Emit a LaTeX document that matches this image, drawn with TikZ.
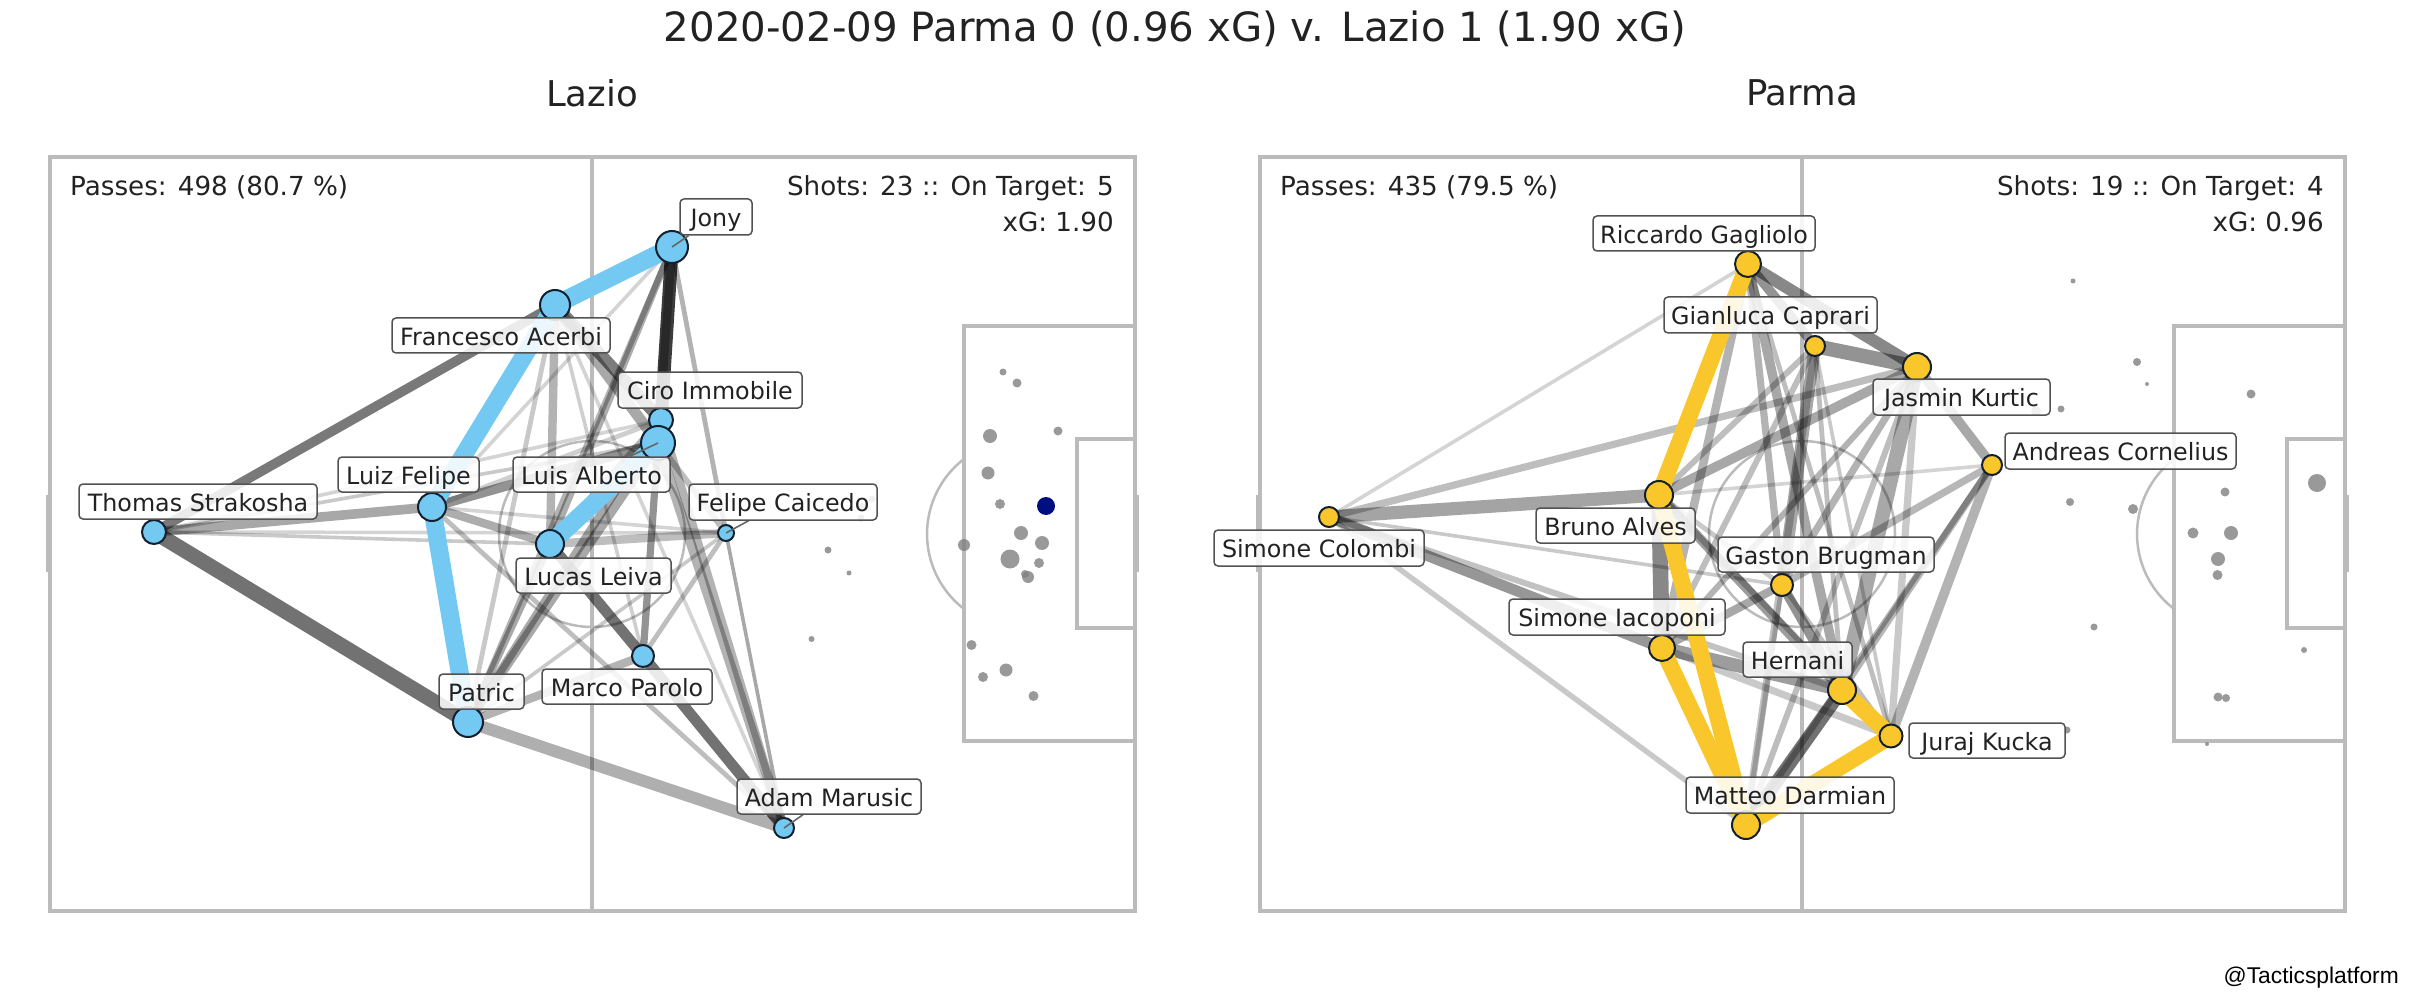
\documentclass[tikz,border=0pt]{standalone}
\usepackage{fontspec}
\setmainfont{DejaVu Sans}
\newfontfamily\wmfont{Liberation Sans}
\usetikzlibrary{backgrounds}
\definecolor{pitchc}{HTML}{BBBBBB}
\definecolor{lazioc}{HTML}{74C9F2}
\definecolor{parmac}{HTML}{F9C72C}
\definecolor{outl}{HTML}{14202E}
\definecolor{shotc}{HTML}{808080}
\definecolor{navyc}{HTML}{000F80}
\definecolor{inkc}{HTML}{222222}
\pgfdeclarelayer{pitchl}\pgfdeclarelayer{edgel}\pgfdeclarelayer{labell}
\pgfsetlayers{pitchl,edgel,main,labell}
\tikzset{
  pitchline/.style={draw=pitchc,line width=3.5pt},
  thinarc/.style={draw=pitchc,line width=2.5pt},
  edge/.style={draw=black,line cap=butt},
  lazioedge/.style={draw=lazioc,line cap=butt,line width=18pt},
  parmaedge/.style={draw=parmac,line cap=butt,line width=16.5pt},
  player/.style={circle,draw=outl,line width=2pt,inner sep=0pt,outer sep=0pt},
  lbl/.style={draw=black!68,line width=1.5pt,rounded corners=4pt,fill=white,fill opacity=.86,draw opacity=1,text opacity=1,text=inkc,inner sep=0pt,
     font=\fontsize{23.8}{28}\selectfont,text height=19.5pt,text depth=0pt,align=center},
  stat/.style={text=inkc,font=\fontsize{26.2}{31}\selectfont,inner sep=0pt},
  stub/.style={draw=black!60,line width=1.6pt},
  shot/.style={fill=shotc,fill opacity=.8},
}
\begin{document}
\begin{tikzpicture}[x=1pt,y=-1pt]
\useasboundingbox (0,0) rectangle (2410,1000);
% titles
\node[text=inkc,font=\fontsize{40.3}{48}\selectfont,inner sep=0pt] (title) at (1175,29) {2020-02-09 Parma 0 (0.96 xG) v. Lazio 1 (1.90 xG)};
\node[text=inkc,font=\fontsize{35.5}{43}\selectfont,inner sep=0pt] (tLazio) at (592,93) {Lazio};
\node[text=inkc,font=\fontsize{35.5}{43}\selectfont,inner sep=0pt] (tParma) at (1802,93) {Parma};
\node[text=black,font=\wmfont\fontsize{22.8}{27}\selectfont,anchor=east,inner sep=0pt] (wm) at (2399,978) {@Tacticsplatform};
% pitches
\begin{pgfonlayer}{pitchl}
\foreach \s in {0,1210}{
  \begin{scope}[xshift=\s pt]
  \draw[pitchline] (50,157) rectangle (1135,911);
  \draw[pitchline] (592,157) -- (592,911);
  \draw[thinarc] (592,534) circle[radius=93pt];
  \draw[pitchline] (1135,326) -- (964,326) -- (964,741) -- (1135,741);
  \draw[pitchline] (1135,439) -- (1077,439) -- (1077,628) -- (1135,628);
  \draw[thinarc] (964,459) arc[start angle=127.5,end angle=232.5,radius=94.5pt];
  \draw[draw=pitchc,line width=4pt] (48,495) -- (48,572);
  \draw[draw=pitchc,line width=4pt] (1137,495) -- (1137,572);
  \end{scope}
}
\end{pgfonlayer}
% shots
\foreach \px/\py/\pr in {1003/372/3.5,1017/383/4.5,1058/431/4.5,990/436/7,988/473/6.5,1000/504/5,872/499/3.5,862/507/4,861/518/3.5,1021/533/7,1042/543/7,964/545/6,1010/559/9.5,1039/563/5,1028/577/6,1025/574/4,828/550/3.5,849/573/2.5,811.5/639/3,971.5/645/5,983/677/5,1006/670/6.5,1033.5/696/5,
  2073/281/2.5,2137/362/4,2147/384/2,2251/394/4.5,2036/411/5,2061/409/3.5,2070/502/4,2133/509/5,2225/492/4.5,2317/483/9,2193/533/5.5,2231/533/7,2218/559/7,2217.5/575/5,2094/627/3.5,2304/650/3,2218/697/4.5,2226/698/4,2067/730/3.5,2207/744/2}
  \fill[shot] (\px,\py) circle[radius=\pr pt];
\fill[navyc] (1046,506) circle[radius=9pt];
% players
\foreach \n/\px/\py/\pr in {Strakosha/154/532/12,LuizF/432/507/14,Acerbi/555/305/15,Jony/672/247/16,Ciro/661/420/12,Alberto/658/443/17,Leiva/550/544/14,Caicedo/726/533/8,Parolo/643/656/11,Patric/468/722/15,Marusic/784/828/10}
  \node[player,fill=lazioc,minimum size={2*\pr}] (n\n) at (\px,\py) {};
\foreach \n/\px/\py/\pr in {Colombi/1329/517/10,Gagliolo/1748/264/13,Caprari/1815/346/10,Kurtic/1917/367/14,Cornelius/1992/465/10,Bruno/1659/495/14,Brugman/1782/585/11,Iacoponi/1662/648/13,Hernani/1842/690/14,Kucka/1891/736/11.5,Darmian/1746/825/14}
  \node[player,fill=parmac,minimum size={2*\pr}] (n\n) at (\px,\py) {};
% stats
\node[stat,anchor=base west] (s1) at (70,195.5) {Passes: 498 (80.7 \%)};
\node[stat,anchor=base east] (s2) at (1114,195.5) {Shots: 23 :: On Target: 5};
\node[stat,anchor=base east] (s3) at (1114,232) {xG: 1.90};
\node[stat,anchor=base west] (s4) at (1280,195.5) {Passes: 435 (79.5 \%)};
\node[stat,anchor=base east] (s5) at (2324,195.5) {Shots: 19 :: On Target: 4};
\node[stat,anchor=base east] (s6) at (2324,232) {xG: 0.96};
% labels
\begin{pgfonlayer}{labell}
\foreach \n/\xa/\ya/\xb/\yb/\txt in {Strakosha/79/484/317/519/Thomas Strakosha,LuizF/338/457/479/492/Luiz Felipe,Acerbi/392/318/610/353/Francesco Acerbi,Jony/680/199/752/235/Jony,Ciro/618/372/802/408/Ciro Immobile,Alberto/513/457/670/492/Luis Alberto,Leiva/516/558/671/593/Lucas Leiva,Caicedo/689/484/877/520/Felipe Caicedo,Parolo/542/669/712/704/Marco Parolo,Patric/439/674/524/709/Patric,Marusic/737/779/921/814/Adam Marusic,
  Gagliolo/1593/216/1815/251/Riccardo Gagliolo,Caprari/1664/297/1877/333/Gianluca Caprari,Kurtic/1873/379/2050/415/Jasmin Kurtic,Cornelius/2005/433/2236/469/Andreas Cornelius,Colombi/1214/530/1424/566/Simone Colombi,Bruno/1536/508/1695/543/Bruno Alves,Brugman/1718/537/1934/572/Gaston Brugman,Iacoponi/1509/599/1725/635/Simone Iacoponi,Hernani/1743/642/1852/677/Hernani,Kucka/1909/723/2065/758/Juraj Kucka,Darmian/1686/777/1894/813/Matteo Darmian}
  \node[lbl,minimum width={\xb-\xa},minimum height={\yb-\ya}] (l\n) at ({(\xa+\xb)/2},{(\ya+\yb)/2}) {\txt};
\end{pgfonlayer}
% stubs from labels to players
\foreach \n in {Jony,Alberto,Caicedo,Marusic}
  \draw[stub] (l\n) -- (n\n.center);
% edges
\begin{pgfonlayer}{edgel}
\foreach \a/\b/\w/\o in {
 Strakosha/Acerbi/8/.62,Strakosha/Patric/12.5/.65,Strakosha/LuizF/8/.4,Strakosha/Leiva/3/.25,Strakosha/Caicedo/3/.2,Strakosha/Alberto/3/.25,Strakosha/Ciro/3/.2,
 LuizF/Alberto/8/.5,LuizF/Leiva/7/.38,LuizF/Marusic/4/.3,LuizF/Ciro/4/.22,LuizF/Caicedo/3/.2,
 Acerbi/Ciro/10/.6,Acerbi/Alberto/9/.4,Acerbi/Leiva/7/.35,Acerbi/Patric/4/.25,Acerbi/Parolo/3/.22,Acerbi/Marusic/3/.2,
 Jony/Ciro/11/.9,Jony/Alberto/7/.4,Jony/Leiva/6/.38,Jony/Caicedo/4/.35,Jony/LuizF/3/.2,Jony/Patric/5/.35,
 Ciro/Marusic/7/.35,Alberto/Marusic/8/.35,Ciro/Leiva/6/.35,Caicedo/Marusic/3/.4,
 Alberto/Parolo/6/.5,Alberto/Caicedo/5/.3,Leiva/Parolo/9/.65,Parolo/Marusic/9/.65,Leiva/Caicedo/7/.3,
 Patric/Marusic/10/.37,Patric/Parolo/7/.35,Patric/Leiva/6/.4,Patric/Alberto/8/.4,Patric/Ciro/7/.4,Patric/Caicedo/3/.25,Parolo/Caicedo/4/.3,
 Colombi/Gagliolo/3/.2,Colombi/Kurtic/6/.3,Colombi/Bruno/11/.42,Colombi/Iacoponi/9/.48,Colombi/Brugman/3/.25,Colombi/Hernani/5/.28,Colombi/Darmian/4.5/.25,
 Bruno/Kurtic/8/.4,Bruno/Caprari/5/.3,Bruno/Cornelius/3/.2,Bruno/Iacoponi/13/.55,Bruno/Hernani/8/.45,Bruno/Kucka/5/.3,Bruno/Brugman/4/.25,
 Gagliolo/Caprari/8/.5,Gagliolo/Kurtic/10/.55,Gagliolo/Iacoponi/7/.35,Gagliolo/Hernani/8/.4,Gagliolo/Brugman/6/.35,Gagliolo/Kucka/4/.3,
 Caprari/Kurtic/12/.5,Caprari/Brugman/10/.4,Caprari/Hernani/4/.3,Caprari/Kucka/3/.25,Caprari/Iacoponi/5/.3,Caprari/Darmian/6/.28,
 Kurtic/Cornelius/8/.4,Kurtic/Brugman/6/.35,Kurtic/Hernani/12/.4,Kurtic/Iacoponi/5/.35,Kurtic/Kucka/6/.25,Kurtic/Darmian/5/.3,
 Cornelius/Brugman/6/.33,Cornelius/Hernani/6/.33,Cornelius/Kucka/8/.35,Cornelius/Darmian/5/.35,
 Brugman/Hernani/8/.5,Brugman/Iacoponi/7/.4,Brugman/Kucka/4/.3,Brugman/Darmian/4/.25,
 Iacoponi/Hernani/11/.45,Iacoponi/Kucka/6/.25,Hernani/Darmian/11/.65}
  \draw[edge,line width={1.2*\w},draw opacity={.85*\o}] (n\a.center) -- (n\b.center);
\foreach \a/\b in {Jony/Acerbi,Acerbi/LuizF,LuizF/Patric,Alberto/Leiva}
  \draw[lazioedge] (n\a.center) -- (n\b.center);
\foreach \a/\b in {Gagliolo/Bruno,Bruno/Darmian,Iacoponi/Darmian,Hernani/Kucka,Kucka/Darmian}
  \draw[parmaedge] (n\a.center) -- (n\b.center);
\end{pgfonlayer}
\end{tikzpicture}
\end{document}
